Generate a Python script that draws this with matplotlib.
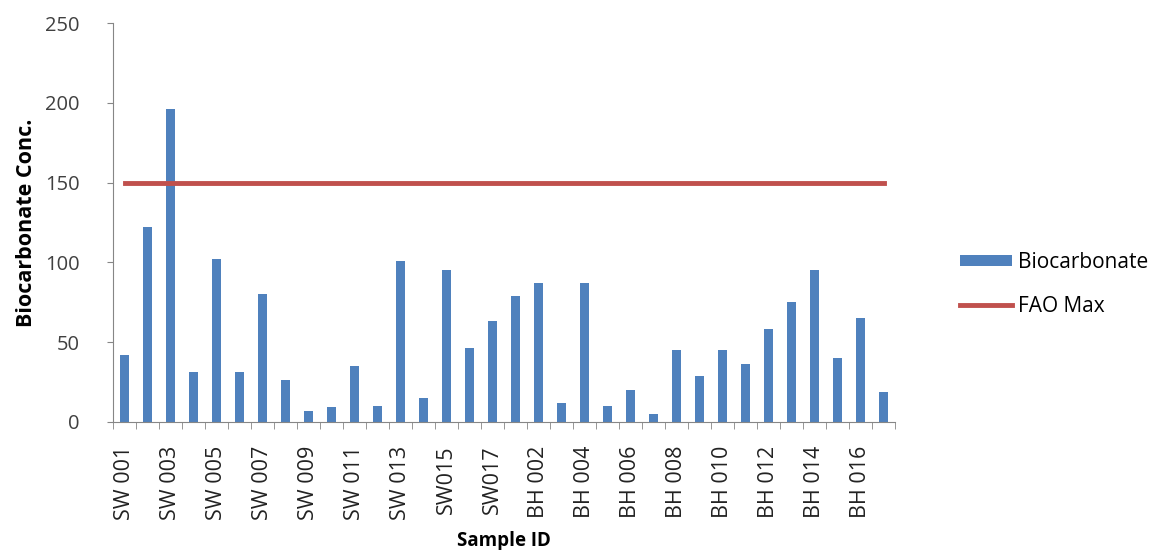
import numpy as np
import matplotlib
matplotlib.use("Agg")
import matplotlib.pyplot as plt

plt.rcParams['font.family'] = ['Open Sans', 'DejaVu Sans']

sw_ids = ["SW 001", "SW 002", "SW 003", "SW 004", "SW 005", "SW 006", "SW 007", "SW 008",
          "SW 009", "SW 010", "SW 011", "SW 012", "SW 013", "SW 014", "SW015", "SW016", "SW017"]
bh_ids = ["BH 001", "BH 002", "BH 003", "BH 004", "BH 005", "BH 006", "BH 007", "BH 008",
          "BH 009", "BH 010", "BH 011", "BH 012", "BH 013", "BH 014", "BH 015", "BH 016", "BH 017"]
samples = sw_ids + bh_ids

biocarbonate = [42, 122, 196, 31, 102, 31, 80, 26, 7, 9, 35, 10, 101, 15, 95, 46, 63,
                79, 87, 12, 87, 10, 20, 5, 45, 29, 45, 36, 58, 75, 95, 40, 65, 19]
fao_max = [150] * len(samples)

x = np.arange(len(samples))

fig = plt.figure(figsize=(11.69, 5.5), dpi=100)
ax = fig.add_axes([0.0967, 0.233, 0.669, 0.725])

bars = ax.bar(x, biocarbonate, width=0.4, color="#4F81BD", label="Biocarbonate", zorder=2)
line, = ax.plot(x, fao_max, color="#C0504D", lw=3.5, label="FAO Max", zorder=3)

ax.set_xlim(-0.5, len(samples) - 0.5)
ax.set_ylim(0, 250)
ax.set_yticks(range(0, 251, 50))
ax.tick_params(axis='y', labelsize=14.5, length=4, pad=20, color="#868686", labelcolor="#404040")

# labels on every other category, tick marks between categories
ax.set_xticks(x[::2])
ax.set_xticklabels(samples[::2], rotation=90, fontsize=15.5, color="#222222")
ax.tick_params(axis='x', which='major', length=0, pad=17)
ax.set_xticks(np.arange(-0.5, len(samples), 1), minor=True)
ax.tick_params(axis='x', which='minor', length=5, color="#868686")

for s in ["top", "right"]:
    ax.spines[s].set_visible(False)
for s in ["left", "bottom"]:
    ax.spines[s].set_color("#868686")

ax.set_ylabel("Biocarbonate Conc.", fontsize=15.5, fontweight="bold", labelpad=6)
ax.set_xlabel("Sample ID", fontsize=13.5, fontweight="bold", labelpad=8)

fig.legend(handles=[bars, line], labels=["Biocarbonate", "FAO Max"],
           loc="center left", bbox_to_anchor=(0.821, 0.483), frameon=False,
           fontsize=15, handlelength=2.5, handleheight=0.5, labelspacing=1.1,
           handletextpad=0.3, borderpad=0, borderaxespad=0)

fig.savefig("out.png", dpi=100)
